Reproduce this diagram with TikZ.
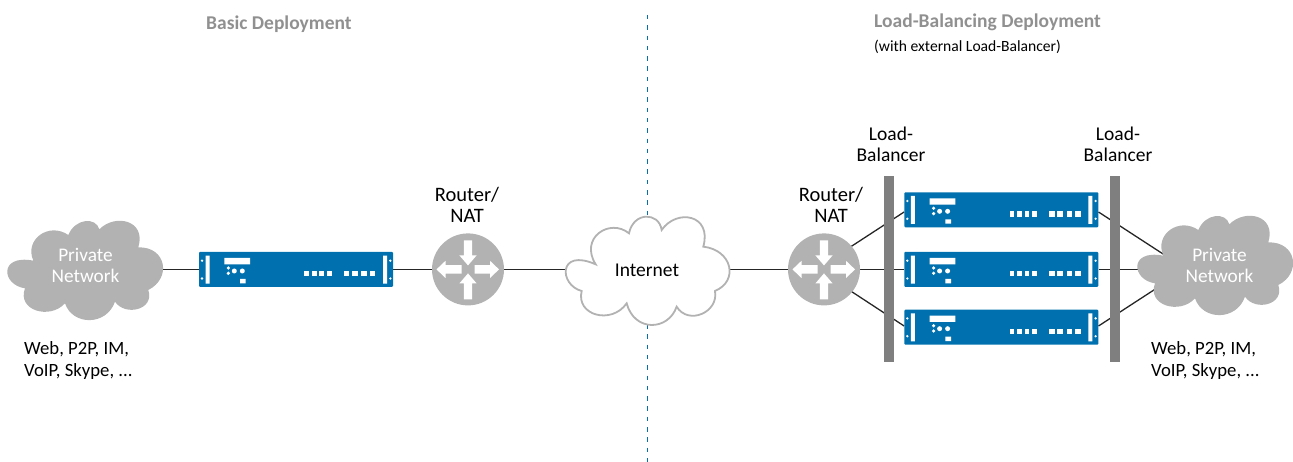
\documentclass[tikz,border=0pt]{standalone}
\usepackage{fontspec}
\setmainfont{Carlito}
\usetikzlibrary{backgrounds}
\definecolor{srvblue}{HTML}{0070AE}
\definecolor{cloudgray}{HTML}{B2B2B2}
\definecolor{bargray}{HTML}{7F7F7F}
\definecolor{headgray}{HTML}{909090}
\newcommand{\privcloud}{(75,235) .. controls (5,225) and (-5,132) .. (100,152)
 .. controls (72,88) and (147,35) .. (205,75)
 .. controls (225,25) and (288,20) .. (298,58)
 .. controls (345,10) and (440,30) .. (415,112)
 .. controls (500,110) and (515,205) .. (445,240)
 .. controls (465,300) and (375,320) .. (345,275)
 .. controls (320,348) and (218,348) .. (195,280)
 .. controls (150,330) and (50,302) .. (75,235) -- cycle}
\tikzset{
 lbl/.style={font=\fontsize{19.5}{21}\selectfont,text=black,align=center,inner sep=0pt},
 rlbl/.style={font=\fontsize{20.5}{21}\selectfont,text=black,align=center,inner sep=0pt},
 lst/.style={font=\fontsize{18.7}{21.5}\selectfont,text=black,align=left,anchor=north west,inner sep=0pt},
 wlbl/.style={font=\fontsize{19.3}{21}\selectfont,text=white,align=center,inner sep=0pt},
 head/.style={font=\fontsize{19.5}{23}\selectfont\bfseries,text=headgray,inner sep=0pt,anchor=west},
 subhead/.style={font=\fontsize{15.6}{18}\selectfont,text=black,inner sep=0pt,anchor=west},
 wire/.style={draw=black!85,line width=1.3pt},
 router/.style={circle,fill=cloudgray,minimum size=72pt,inner sep=0pt},
 lbar/.style={fill=bargray,draw=none,inner sep=0pt,minimum width=10pt,minimum height=186pt},
 srv/.style={fill=srvblue,draw=none,inner sep=0pt,minimum width=194pt,minimum height=35pt,rounded corners=1pt},
 anchorbox/.style={inner sep=0pt,minimum size=0pt},
 pics/server/.style={code={
  \fill[white] (6.5,3.7) rectangle (10.5,31.7) (184,3.7) rectangle (188,31.7);
  \fill[white] (3,8.7) circle (1.3) (3,26.5) circle (1.3) (191.3,8.7) circle (1.3) (191.3,26.5) circle (1.3);
  \fill[white] (25.3,6) rectangle (51,12.3) (41,27) rectangle (46.7,31.3);
  \fill[white] (29.3,16) circle (1.8) (29.3,21.3) circle (1.8) (35.3,19) circle (2.5) (43.3,19) circle (2.5);
  \foreach \a/\b in {105.3/110,112.7/117.7,120.3/125,128/133,144.7/150.3,153/158.7,162.3/168,170.7/176.3}
   \fill[white] (\a,19) rectangle (\b,24.3);
 }},
 pics/arrows/.style={code={
  \fill[white] (-4.2,-29) -- (4.2,-29) -- (4.2,-14) -- (8.6,-14) -- (0,-4) -- (-8.6,-14) -- (-4.2,-14) -- cycle;
  \fill[white] (-4.2,30) -- (4.2,30) -- (4.2,14) -- (8.6,14) -- (0,4) -- (-8.6,14) -- (-4.2,14) -- cycle;
  \fill[white] (-6.5,-4.2) -- (-6.5,4.2) -- (-22.5,4.2) -- (-22.5,8.6) -- (-31.5,0) -- (-22.5,-8.6) -- (-22.5,-4.2) -- cycle;
  \fill[white] (6.5,-4.2) -- (6.5,4.2) -- (22,4.2) -- (22,8.6) -- (31,0) -- (22,-8.6) -- (22,-4.2) -- cycle;
 }}
}
\begin{document}
\begin{tikzpicture}[x=1pt,y=-1pt]
\useasboundingbox (0,0) rectangle (1293,462);
% anchors inside clouds and routers
\node[anchorbox] (privL) at (85,269.4) {};
\node[anchorbox] (inet) at (647,269.4) {};
\node[anchorbox] (privR) at (1215,269.4) {};
\coordinate (privRa) at (1170,258.5);
\coordinate (privRb) at (1170,279.5);
\coordinate (r2a) at (835,257);
\coordinate (r2b) at (835,280.7);
\coordinate (divtop) at (647.5,15);
\coordinate (divbot) at (647.5,462);
% devices
\node[router] (r1) at (468,269.4) {};
\node[router] (r2) at (824,269.4) {};
\node[lbar] (lb1) at (889,269) {};
\node[lbar] (lb2) at (1115,269) {};
\node[srv] (s0) at (296,269.4) {};
\node[srv] (s1) at (1001.3,209.8) {};
\node[srv] (s2) at (1001.3,269.4) {};
\node[srv] (s3) at (1001.3,327.2) {};
\pic at (199,252) {server};
\pic at (904.3,192.3) {server};
\pic at (904.3,252) {server};
\pic at (904.3,309.7) {server};
\pic at (r1) {arrows};
\pic at (r2) {arrows};
% divider and wires behind everything
\begin{pgfonlayer}{background}
\draw[srvblue,line width=1.1pt,dash pattern=on 4.5pt off 5.8pt] (divtop) -- (divbot);
\draw[wire] (privL) -- (s0);
\draw[wire] (s0) -- (r1);
\draw[wire] (r1) -- (inet);
\draw[wire] (inet) -- (r2);
\draw[wire] (r2) -- (s2);
\draw[wire] (r2a) -- ([yshift=-2.2pt]s1.west);
\draw[wire] (r2b) -- ([yshift=1.2pt]s3.west);
\draw[wire] (s2) -- (privR);
\draw[wire] ([yshift=-2.2pt]s1.east) -- (privRa);
\draw[wire] ([yshift=1.2pt]s3.east) -- (privRb);
\end{pgfonlayer}
% clouds
\begin{scope}[shift={(0,210)},x=0.3333pt,y=-0.3333pt]
 \fill[cloudgray] \privcloud;
\end{scope}
\begin{scope}[shift={(1130,205)},x=0.3333pt,y=-0.3333pt]
 \fill[cloudgray] \privcloud;
\end{scope}
\begin{scope}[shift={(555,205)},x=0.3333pt,y=-0.3333pt]
 \draw[fill=white,draw=cloudgray,line width=1.8pt] (80,258) .. controls (12,240) and (8,128) .. (122,178)
 .. controls (72,98) and (165,38) .. (222,85)
 .. controls (235,20) and (312,20) .. (320,75)
 .. controls (365,10) and (472,28) .. (445,125)
 .. controls (532,135) and (552,228) .. (480,258)
 .. controls (492,322) and (400,362) .. (365,305)
 .. controls (340,378) and (238,382) .. (215,295)
 .. controls (170,360) and (62,332) .. (80,258) -- cycle;
\end{scope}
% labels
\node[wlbl] (t1) at (85.5,265.5) {Private\\Network};
\node[wlbl] (t2) at (1219.5,265.5) {Private\\Network};
\node[lbl] (t3) at (647,270) {Internet};
\node[rlbl] (t4) at (467,205) {Router/\\NAT};
\node[rlbl] (t5) at (831,205) {Router/\\NAT};
\node[lbl] (t6) at (891,144.5) {Load-\\Balancer};
\node[lbl] (t7) at (1118,144.5) {Load-\\Balancer};
\node[lst] (t8) at (24,341.5) {Web, P2P, IM,\\VoIP, Skype, ...};
\node[lst] (t9) at (1151,341.5) {Web, P2P, IM,\\VoIP, Skype, ...};
\node[head] (h1) at (206,24) {Basic Deployment};
\node[head] (h2) at (874,22.5) {Load-Balancing Deployment};
\node[subhead] (h3) at (874,46.5) {(with external Load-Balancer)};
\end{tikzpicture}
\end{document}
